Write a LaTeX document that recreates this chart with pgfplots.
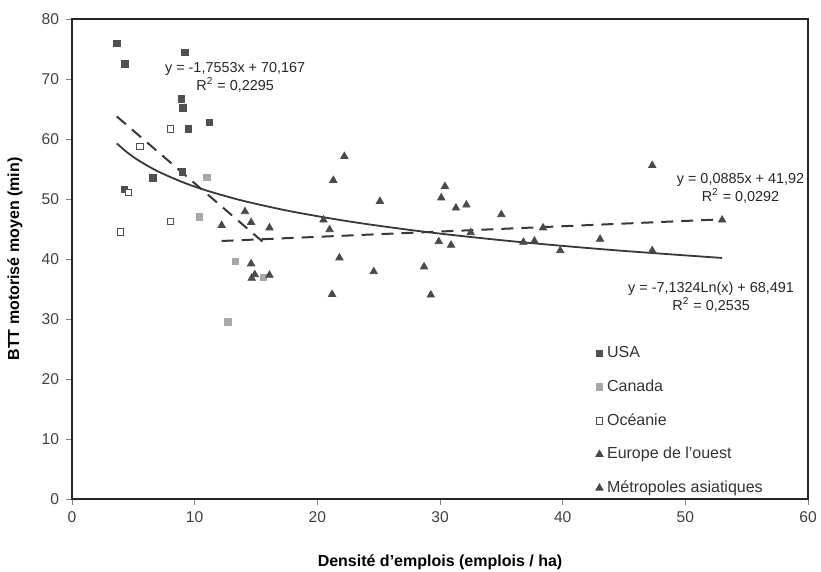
\documentclass[border=0pt]{standalone}
\usepackage{fontspec}
\setmainfont{Liberation Sans}
\usepackage{pgfplots}
\pgfplotsset{compat=1.18}

\definecolor{usa}{HTML}{505050}
\definecolor{can}{HTML}{A8A8A8}
\definecolor{tri}{HTML}{4A4A4A}
\definecolor{trend}{HTML}{383838}

\begin{document}
\begin{tikzpicture}[font=\fontsize{8}{9.6}\selectfont]
  \begin{axis}[
    name=ax,
    scale only axis,
    width=368pt, height=240pt,
    xmin=0, xmax=60, ymin=0, ymax=80,
    xtick={0,10,...,60}, ytick={0,10,...,80},
    tick align=outside, tick pos=left, major tick length=3pt,
    axis line style={black!85, line width=0.6pt},
    /pgf/number format/assume math mode=true,
    ticklabel style={font=\fontsize{7.8}{9}\selectfont, text=black!75},
    xlabel={\bfseries Densité d'emplois (emplois / ha)},
    ylabel={\bfseries BTT motorisé moyen (min)},
    every axis x label/.style={at={(axis description cs:0.5,-0.131)}, anchor=center},
    every axis y label/.style={at={(axis description cs:-0.0775,0.5)}, rotate=90, anchor=center},
    legend style={draw=none, fill=none, at={(0.703,0.335)}, anchor=north west,
      row sep=5.5pt, font=\fontsize{8}{9.6}\selectfont, text=black!80},
    legend cell align=left,
    legend image code/.code={\draw[#1] plot coordinates {(0.1cm,0cm)};},
    ]

    % courbes de tendance
    \addplot[forget plot, trend, line width=1pt, dash pattern=on 6pt off 4pt] coordinates {
      (3.65,63.76) (15.6,42.78)
    };
    \addplot[forget plot, trend, line width=1pt, dash pattern=on 6pt off 4pt] coordinates {
      (12.2,43.00) (53,46.61)
    };
    \addplot[forget plot, trend, line width=0.9pt, smooth] coordinates {
      (3.65,59.26) (4.5,57.76) (5.5,56.33) (7,54.61) (9,52.82) (11,51.39)
      (14,49.67) (18,47.88) (23,46.13) (29,44.47) (36,42.93) (44,41.50) (53,40.17)
    };

    % USA
    \addplot[only marks, mark=square*, mark size=1.6pt, color=usa] coordinates {
      (3.65,75.9) (4.3,72.5) (9.2,74.4) (8.9,66.7) (9.05,65.2) (9.5,61.7)
      (11.2,62.8) (6.6,53.5) (9.0,54.5) (4.25,51.6)
    };
    \addlegendentry{USA}
    % Canada
    \addplot[only marks, mark=square*, mark size=1.6pt, color=can] coordinates {
      (11.0,53.6) (10.4,47.0) (13.3,39.6) (15.6,36.9) (12.7,29.5)
    };
    \addlegendentry{Canada}
    % Oceanie
    \addplot[only marks, mark=square*, mark size=1.6pt, color=usa,
      mark options={fill=white}] coordinates {
      (8.0,61.7) (5.55,58.8) (4.6,51.1) (8.0,46.3) (3.95,44.5)
    };
    \addlegendentry{Océanie}
    % Europe de l'ouest
    \addplot[only marks, mark=triangle*, mark size=2.1pt, color=tri] coordinates {
      (14.1,47.9) (12.2,45.6) (14.6,46.1) (16.1,45.2) (21.3,53.1) (20.5,46.5)
      (21.0,44.9) (21.8,40.2) (21.2,34.1) (14.6,39.2) (14.9,37.4) (14.65,36.8)
      (16.1,37.3) (22.2,57.1) (25.1,49.6) (24.6,37.9)
    };
    \addlegendentry{Europe de l'ouest}
    % Metropoles asiatiques
    \addplot[only marks, mark=triangle*, mark size=2.1pt, color=tri] coordinates {
      (28.7,38.7) (29.25,34.0) (30.4,52.1) (30.1,50.2) (31.3,48.5) (32.15,49.0)
      (29.9,42.9) (30.9,42.3) (32.5,44.4) (35.0,47.4) (36.8,42.8) (37.7,43.0)
      (38.4,45.2) (47.3,55.6) (43.05,43.3) (39.8,41.4) (47.3,41.4) (53.0,46.5)
    };
    \addlegendentry{Métropoles asiatiques}

    \node[align=center, font=\fontsize{7.2}{9}\selectfont, text=black!85]
      at (axis cs:13.3,70.2) {y = -1,7553x + 70,167\\R\textsuperscript{2} = 0,2295};
    \node[align=center, font=\fontsize{7.2}{9}\selectfont, text=black!85]
      at (axis cs:54.5,51.8) {y = 0,0885x + 41,92\\R\textsuperscript{2} = 0,0292};
    \node[align=center, font=\fontsize{7.2}{9}\selectfont, text=black!85]
      at (axis cs:52.1,33.7) {y = -7,1324Ln(x) + 68,491\\R\textsuperscript{2} = 0,2535};
  \end{axis}
  \pgfresetboundingbox
  \path ([xshift=-36pt,yshift=-36.5pt]ax.south west) rectangle ([xshift=6.5pt,yshift=9.5pt]ax.north east);
\end{tikzpicture}
\end{document}
